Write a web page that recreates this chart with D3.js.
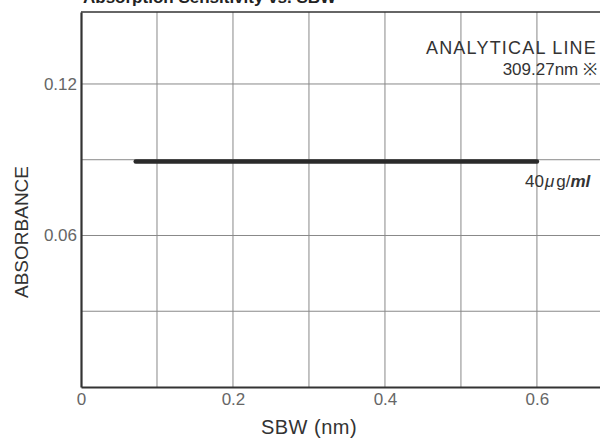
<!DOCTYPE html>
<html>
<head>
<meta charset="utf-8">
<script src="https://cdn.jsdelivr.net/npm/d3@7"></script>
<style>
  body { margin: 0; background: #fff; overflow: hidden; }
  svg { display: block; }
  svg text { font-family: "Liberation Sans", Arial, sans-serif; }
</style>
</head>
<body>
<div id="chart"></div>
<script>
// Data
const sbw = [0.072, 0.6];
const absorbance = [0.0893, 0.0893];
const xTicks = [0, 0.2, 0.4, 0.6];
const yTicks = [0.06, 0.12];
const xGrid = [0.1, 0.2, 0.3, 0.4, 0.5, 0.6];
const yGrid = [0.03, 0.06, 0.09, 0.12];

const width = 600,
    height = 440,
    margin = {top: 12, right: 0, bottom: 53, left: 81};

const innerWidth = width - margin.left - margin.right;
const innerHeight = height - margin.top - margin.bottom;

const svg = d3.select("#chart")
  .append("svg")
  .attr("width", width)
  .attr("height", height);

const g = svg.append("g")
  .attr("transform", `translate(${margin.left}, ${margin.top})`);

// Scales
const x = d3.scaleLinear()
  .domain([0, 0.683])
  .range([0, innerWidth]);

const y = d3.scaleLinear()
  .domain([0, 0.1485])
  .range([innerHeight, 0]);

// Title (cut off at the top)
svg.append("text")
  .attr("x", 83)
  .attr("y", 3)
  .style("font-size", "17px")
  .style("font-weight", "bold")
  .attr("fill", "#222")
  .text("Absorption Sensitivity vs. SBW");

// Grid
g.selectAll(".xgrid")
  .data(xGrid)
  .enter()
  .append("line")
  .attr("x1", d => x(d))
  .attr("x2", d => x(d))
  .attr("y1", 0)
  .attr("y2", innerHeight)
  .attr("stroke", "#888")
  .attr("stroke-width", 1);

g.selectAll(".ygrid")
  .data(yGrid)
  .enter()
  .append("line")
  .attr("x1", 0)
  .attr("x2", innerWidth)
  .attr("y1", d => y(d))
  .attr("y2", d => y(d))
  .attr("stroke", "#888")
  .attr("stroke-width", 1);

// Frame top
g.append("line")
  .attr("x1", 0).attr("x2", innerWidth)
  .attr("y1", 0).attr("y2", 0)
  .attr("stroke", "#333").attr("stroke-width", 1.5);

// Axes
const xAxis = g.append("g")
  .attr("transform", `translate(0,${innerHeight})`)
  .call(d3.axisBottom(x).tickValues(xTicks).tickSize(0).tickPadding(6).tickFormat(d => d === 0 ? "0" : d3.format(".1f")(d)));

const yAxis = g.append("g")
  .call(d3.axisLeft(y).tickValues(yTicks).tickSize(0).tickPadding(4).tickFormat(d3.format(".2f")));

[xAxis, yAxis].forEach(a => {
  a.select(".domain").attr("stroke", "#333").attr("stroke-width", 2.2);
  a.selectAll("text")
    .style("font-size", "17px")
    .style("font-family", "'Liberation Sans', Arial, sans-serif")
    .attr("fill", "#666");
});

// Axis labels
svg.append("text")
  .attr("x", 309)
  .attr("y", 434)
  .attr("text-anchor", "middle")
  .style("font-size", "20px")
  .style("letter-spacing", "0.5px")
  .attr("fill", "#333")
  .text("SBW (nm)");

svg.append("text")
  .attr("transform", "rotate(-90)")
  .attr("x", -232)
  .attr("y", 28)
  .attr("text-anchor", "middle")
  .style("font-size", "19px")
  .attr("fill", "#333")
  .text("ABSORBANCE");

// Series line
const line = d3.line()
  .x((d, i) => x(sbw[i]))
  .y(d => y(d));

g.append("path")
  .datum(absorbance)
  .attr("d", line)
  .attr("fill", "none")
  .attr("stroke", "#2a2a2a")
  .attr("stroke-width", 4.5)
  .attr("stroke-linecap", "round");

// Annotations
svg.append("text")
  .attr("x", 597)
  .attr("y", 54)
  .attr("text-anchor", "end")
  .style("font-size", "18px")
  .style("letter-spacing", "1.2px")
  .attr("fill", "#333")
  .text("ANALYTICAL LINE");

svg.append("text")
  .attr("x", 597)
  .attr("y", 75)
  .attr("text-anchor", "end")
  .style("font-size", "17px")
  .attr("fill", "#333")
  .text("309.27nm ※");

const conc = svg.append("text")
  .attr("x", 525)
  .attr("y", 187)
  .style("font-size", "17px")
  .attr("fill", "#333");
conc.append("tspan").text("40");
conc.append("tspan").style("font-style", "italic").attr("dx", 1).text("μ");
conc.append("tspan").attr("dx", 2).text("g/");
conc.append("tspan").style("font-style", "italic").style("font-weight", "bold").text("ml");
</script>
</body>
</html>
